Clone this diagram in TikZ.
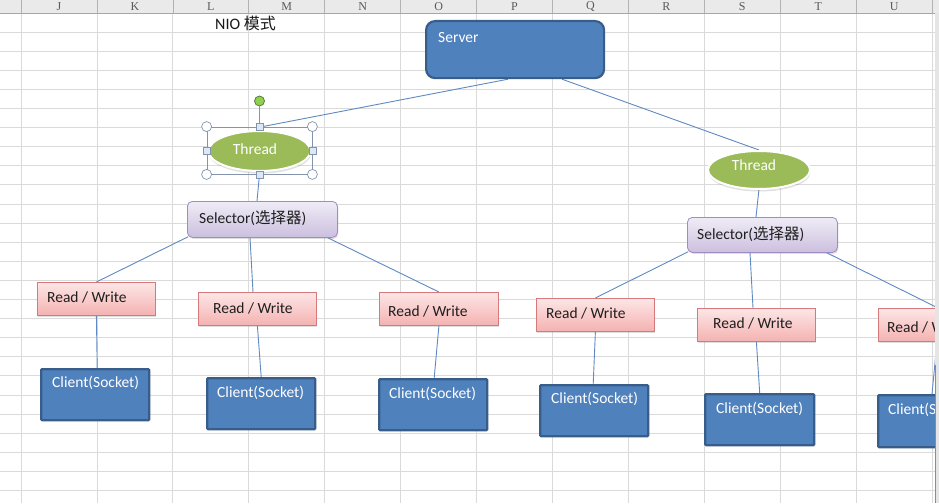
\documentclass[tikz,border=0pt]{standalone}
\usepackage{fontspec}
\setmainfont{Carlito}
\newfontfamily\cjk{Noto Sans CJK SC}
\newfontfamily\hdrfont{Liberation Serif}
\usetikzlibrary{calc,shadows,shapes.geometric}
\pgfdeclarelayer{gridlayer}
\pgfdeclarelayer{wirelayer}
\pgfsetlayers{gridlayer,wirelayer,main}
\definecolor{blueF}{HTML}{4F81BD}
\definecolor{blueB}{HTML}{385D8A}
\definecolor{greenF}{HTML}{9BBB59}
\definecolor{rwTop}{HTML}{FDE6E6}
\definecolor{rwBot}{HTML}{F4B2B1}
\definecolor{rwB}{HTML}{D6797B}
\definecolor{selTop}{HTML}{F0ECF6}
\definecolor{selBot}{HTML}{CCBFDF}
\definecolor{selB}{HTML}{A08CC0}
\definecolor{wire}{HTML}{5E89C2}
\definecolor{gridc}{HTML}{DADADA}
\definecolor{hdr}{HTML}{EAEAEA}
\definecolor{hdlB}{HTML}{8394AC}
\definecolor{hdlF}{HTML}{DCE8F6}
\definecolor{rotF}{HTML}{8FD14F}
\begin{document}
\begin{tikzpicture}[x=1pt,y=-1pt,
  txt/.style={inner sep=0pt, font=\fontsize{15.5}{18}\selectfont},
  wtxt/.style={txt, text=white},
  ktxt/.style={txt, text=black!88},
  hdrtxt/.style={inner sep=0pt, text=black!65, font=\hdrfont\fontsize{12}{12}\selectfont},
  wire/.style={draw=wire, line width=0.9pt},
  srvbox/.style={draw=blueB, line width=2.2pt, fill=blueF, rounded corners=9pt, inner sep=0pt, anchor=north west},
  clibox/.style={draw=blueB, line width=2.4pt, fill=blueF, rounded corners=1pt, inner sep=0pt, anchor=north west, minimum width=108, minimum height=51},
  rwbox/.style={draw=rwB, line width=0.8pt, top color=rwTop, bottom color=rwBot, inner sep=0pt, anchor=north west, minimum width=118, minimum height=33,
     drop shadow={shadow xshift=1pt, shadow yshift=-1.5pt, opacity=0.25}},
  selbox/.style={draw=selB, line width=0.8pt, top color=selTop, bottom color=selBot, rounded corners=5pt, inner sep=0pt, anchor=north west, minimum width=150, minimum height=36,
     drop shadow={shadow xshift=1pt, shadow yshift=-1.5pt, opacity=0.25}},
  threadnode/.style={ellipse, fill=greenF, draw=white, line width=2pt, inner sep=0pt, minimum width=102, minimum height=40,
     drop shadow={shadow xshift=0.5pt, shadow yshift=-2.5pt, opacity=0.25}},
  selframe/.style={draw=hdlB, line width=0.8pt, inner sep=0pt, minimum width=105, minimum height=47},
  hcirc/.style={circle, draw=hdlB, fill=white, line width=0.7pt, minimum size=10, inner sep=0pt},
  hsq/.style={rectangle, draw=hdlB, fill=hdlF, line width=0.7pt, minimum size=7, inner sep=0pt},
  hrot/.style={circle, draw=black!45!rotF, fill=rotF, line width=0.7pt, minimum size=10, inner sep=0pt}
]
\useasboundingbox (0,0) rectangle (939,503);
\begin{pgfonlayer}{gridlayer}
\fill[white] (0,0) rectangle (939,503);
\foreach \k in {0,...,24} \draw[gridc, line width=0.7pt] (0,{32+19.1*\k}) -- (939,{32+19.1*\k});
\foreach \k in {0,...,12} \draw[gridc, line width=0.7pt] ({21+75.92*\k},13) -- ({21+75.92*\k},503);
\fill[hdr] (0,0) rectangle (939,13);
\foreach \k in {0,...,12} \draw[black!30, line width=0.6pt] ({21+75.92*\k},0) -- ({21+75.92*\k},13);
\draw[black!35, line width=0.7pt] (0,13) -- (939,13);
\end{pgfonlayer}
\foreach \l [count=\i from 0] in {J,K,L,M,N,O,P,Q,R,S,T,U}
  \node[hdrtxt] (col\l) at ({59+75.92*\i},6.3) {\l};
\node[txt, anchor=west, text=black!90, font=\fontsize{16}{18}\selectfont] (title) at (215,23) {NIO {\cjk 模式}};

\begin{scope}
\clip (0,13) rectangle (935,503);
\node[srvbox, minimum width=178, minimum height=57] (srv) at (425,20) {};
\node[threadnode] (thL) at (259.5,151) {};
\node[threadnode, minimum height=38] (thR) at (759,170) {};
\node[selbox] (selL) at (187,201) {};
\node[selbox, minimum height=35] (selR) at (687,217) {};
\node[rwbox] (rw1) at (37,282) {};
\node[rwbox] (rw2) at (198,292) {};
\node[rwbox, minimum width=119] (rw3) at (379,292) {};
\node[rwbox] (rw4) at (536,298) {};
\node[rwbox] (rw5) at (697,308) {};
\node[rwbox] (rw6) at (878,308) {};
\node[clibox] (c1) at (40,368) {};
\node[clibox] (c2) at (206,377) {};
\node[clibox] (c3) at (378,378) {};
\node[clibox] (c4) at (539,384) {};
\node[clibox, minimum width=109] (c5) at (704,393) {};
\node[clibox, minimum height=52] (c6) at (877,394) {};
\node[selframe] (frL) at (259.5,150.5) {};

\node[wtxt, anchor=west] (srvT) at (438,38) {Server};
\node[wtxt] (thLT) at (255,149) {Thread};
\node[wtxt] (thRT) at (754,165) {Thread};
\node[ktxt, anchor=west] (selLT) at (199,218) {Selector({\cjk 选择器})};
\node[ktxt, anchor=west] (selRT) at (697,234) {Selector({\cjk 选择器})};
\node[ktxt, anchor=west] (rw1T) at (47,297) {Read / Write};
\node[ktxt, anchor=west] (rw2T) at (213,308) {Read / Write};
\node[ktxt, anchor=west] (rw3T) at (388,311) {Read / Write};
\node[ktxt, anchor=west] (rw4T) at (546,313) {Read / Write};
\node[ktxt, anchor=west] (rw5T) at (713,323) {Read / Write};
\node[ktxt, anchor=west] (rw6T) at (887,327) {Read / Write};
\node[wtxt, anchor=west] (c1T) at (52,383) {Client(Socket)};
\node[wtxt, anchor=west] (c2T) at (217,393) {Client(Socket)};
\node[wtxt, anchor=west] (c3T) at (389,394) {Client(Socket)};
\node[wtxt, anchor=west] (c4T) at (551,399) {Client(Socket)};
\node[wtxt, anchor=west] (c5T) at (716,409) {Client(Socket)};
\node[wtxt, anchor=west] (c6T) at (888,410) {Client(Socket)};

\node[hrot] (rot) at (259.5,101) {};
\draw[hdlB, line width=0.8pt] (frL.north) -- (rot.south);
\node[hcirc] (h1) at (frL.north west) {};
\node[hcirc] (h2) at (frL.north east) {};
\node[hcirc] (h3) at (frL.south west) {};
\node[hcirc] (h4) at (frL.south east) {};
\node[hsq] (h5) at (frL.north) {};
\node[hsq] (h6) at (frL.south) {};
\node[hsq] (h7) at (frL.west) {};
\node[hsq] (h8) at (frL.east) {};
\end{scope}

\begin{pgfonlayer}{wirelayer}
\clip (0,13) rectangle (935,503);
\draw[wire] ($(srv.south west)+(83,0)$) -- ($(frL.north)+(3,0)$);
\draw[wire] ($(srv.south west)+(137,0)$) -- (thR.north);
\draw[wire] (frL.south) -- ($(selL.north west)+(70,0)$);
\draw[wire] ($(thR.south)+(0,-1)$) -- ($(selR.north west)+(69,0)$);
\draw[wire] ($(selL.south west)+(1,-1)$) -- (rw1.north);
\draw[wire] ($(selL.south west)+(63,0)$) -- ($(rw2.north west)+(55,0)$);
\draw[wire] ($(selL.south east)+(-10,0)$) -- (rw3.north);
\draw[wire] (rw1.south) -- ($(c1.north)+(2,0)$);
\draw[wire] (rw2.south) -- (c2.north);
\draw[wire] (rw3.south) -- ($(c3.north)+(1,0)$);
\draw[wire] ($(selR.south west)+(1,-1)$) -- (rw4.north);
\draw[wire] ($(selR.south west)+(63,0)$) -- ($(rw5.north west)+(56,0)$);
\draw[wire] ($(selR.south east)+(-11,0)$) -- ($(rw6.north west)+(60,0)$);
\draw[wire] (rw4.south) -- ($(c4.north)+(-1,0)$);
\draw[wire] (rw5.south) -- (c5.north);
\draw[wire] ($(rw6.south west)+(59,0)$) -- ($(c6.north west)+(55,0)$);
\end{pgfonlayer}

\fill[black!10] (935,13) rectangle (939,503);
\draw[black!45, line width=0.8pt] (935,365) -- (935,503);
\end{tikzpicture}
\end{document}
